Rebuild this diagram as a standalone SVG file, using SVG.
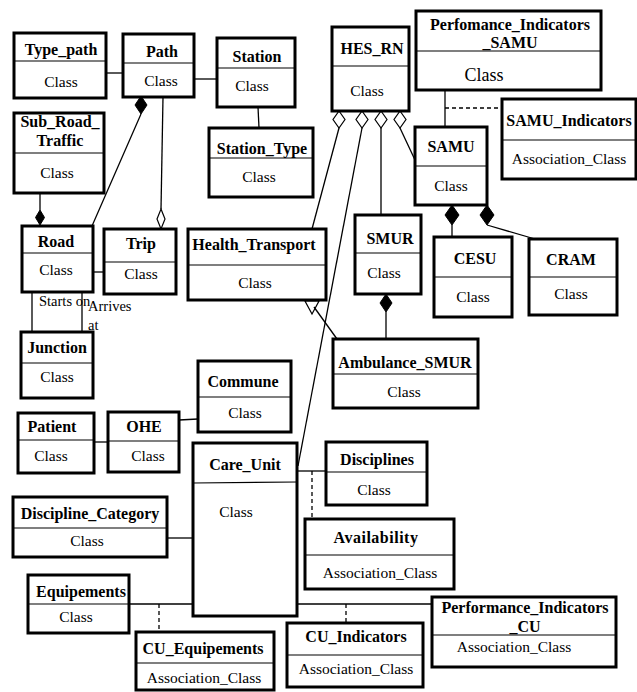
<svg xmlns="http://www.w3.org/2000/svg" width="637" height="692" viewBox="0 0 637 692">
<style>
.box{fill:#fff;stroke:#000;stroke-width:3}
.div{stroke:#000;stroke-width:1.2}
.t{font-family:"Liberation Serif","Times New Roman",serif;font-size:16px;font-weight:bold;text-anchor:middle;fill:#000}
.c{font-family:"Liberation Serif","Times New Roman",serif;font-size:15.5px;text-anchor:middle;fill:#000}
.lbl{font-family:"Liberation Serif","Times New Roman",serif;font-size:14.5px;fill:#000}
.ln{stroke:#000;stroke-width:1.3;fill:none}
.dash{stroke:#000;stroke-width:1.3;fill:none;stroke-dasharray:4 3}
.fd{fill:#000;stroke:#000;stroke-width:1}
.hd{fill:#fff;stroke:#000;stroke-width:1.2}
</style>
<rect width="637" height="692" fill="#fff"/>
<g id="connectors">
<line class="ln" x1="106" y1="73" x2="123" y2="73"/>
<line class="ln" x1="194" y1="79" x2="217" y2="79"/>
<line class="ln" x1="258" y1="107" x2="259" y2="128"/>
<line class="ln" x1="141" y1="114" x2="92" y2="226"/>
<polygon class="fd" points="141,96 147,105 141,114 135,105"/>
<line class="ln" x1="163" y1="97" x2="161" y2="209"/>
<polygon class="hd" points="161,209 165,219 161,229 157,219"/>
<line class="ln" x1="40" y1="193" x2="40" y2="210"/>
<polygon class="fd" points="40,210 44.5,217.5 40,225 35.5,217.5"/>
<line class="ln" x1="93" y1="272" x2="104" y2="272"/>
<line class="ln" x1="32" y1="292" x2="32" y2="332"/>
<line class="ln" x1="82" y1="292" x2="82" y2="332"/>
<line class="ln" x1="339" y1="128" x2="312" y2="229"/>
<line class="ln" x1="362" y1="128" x2="298" y2="466"/>
<line class="ln" x1="381" y1="128" x2="381" y2="215"/>
<line class="ln" x1="400" y1="128" x2="415" y2="160"/>
<polygon class="hd" points="339,111 345,119.5 339,128 333,119.5"/>
<polygon class="hd" points="362,111 368,119.5 362,128 356,119.5"/>
<polygon class="hd" points="381,111 387,119.5 381,128 375,119.5"/>
<polygon class="hd" points="400,111 406,119.5 400,128 394,119.5"/>
<line class="ln" x1="445" y1="90" x2="445" y2="127"/>
<line class="dash" x1="445" y1="108" x2="502" y2="108"/>
<polygon class="fd" points="452,205 459,215 452,225 445,215"/>
<line class="ln" x1="452" y1="225" x2="452" y2="237"/>
<polygon class="fd" points="487,205 494,215 487,225 480,215"/>
<line class="ln" x1="487" y1="225" x2="535" y2="239"/>
<line class="ln" x1="314" y1="307" x2="337" y2="339"/>
<polygon class="hd" points="305,301 319,301 312,314" style="fill:none"/>
<polygon class="fd" points="386,294 392,303 386,312 380,303"/>
<line class="ln" x1="386" y1="312" x2="386" y2="339"/>
<line class="ln" x1="179" y1="420" x2="198" y2="419"/>
<line class="ln" x1="94" y1="442" x2="108" y2="442"/>
<line class="ln" x1="167" y1="538" x2="193" y2="538"/>
<line class="ln" x1="297" y1="471" x2="326" y2="471"/>
<line class="dash" x1="312" y1="471" x2="312" y2="519"/>
<line class="ln" x1="129" y1="604" x2="193" y2="604"/>
<line class="dash" x1="159" y1="604" x2="159" y2="632"/>
<line class="ln" x1="297" y1="604" x2="432" y2="604"/>
<line class="dash" x1="346" y1="604" x2="346" y2="623"/>
<text class="lbl" x="39" y="306">Starts on</text>
<text class="lbl" x="88" y="311">Arrives</text>
<text class="lbl" x="88" y="330">at</text>
</g>
<g id="Type_path"><rect class="box" x="14" y="33" width="92" height="65"/><line class="div" x1="14" y1="61" x2="106" y2="61"/><text class="t" x="61" y="55">Type_path</text><text class="c" x="61" y="87">Class</text></g>
<g id="Path"><rect class="box" x="123" y="34" width="71" height="63"/><line class="div" x1="123" y1="63" x2="194" y2="63"/><text class="t" x="162" y="57">Path</text><text class="c" x="161" y="86">Class</text></g>
<g id="Station"><rect class="box" x="217" y="38" width="78" height="69"/><line class="div" x1="217" y1="68" x2="295" y2="68"/><text class="t" x="257" y="62">Station</text><text class="c" x="252" y="91">Class</text></g>
<g id="Station_Type"><rect class="box" x="209" y="128" width="104" height="69"/><line class="div" x1="209" y1="158" x2="313" y2="158"/><text class="t" x="262" y="154">Station_Type</text><text class="c" x="259" y="182">Class</text></g>
<g id="HES_RN"><rect class="box" x="332" y="27" width="77" height="84"/><line class="div" x1="332" y1="66" x2="409" y2="66"/><text class="t" x="372" y="54">HES_RN</text><text class="c" x="367" y="96">Class</text></g>
<g id="Perfomance_Indicators_SAMU"><rect class="box" x="416" y="11" width="185" height="79"/><line class="div" x1="416" y1="51" x2="601" y2="51"/><text class="t" x="510" y="30">Perfomance_Indicators</text><text class="t" x="510" y="48">_SAMU</text><text class="c" x="484" y="81" style="font-size:18px">Class</text></g>
<g id="SAMU_Indicators"><rect class="box" x="502" y="99" width="134" height="80"/><line class="div" x1="502" y1="140" x2="636" y2="140"/><text class="t" x="569" y="126">SAMU_Indicators</text><text class="c" x="569" y="164">Association_Class</text></g>
<g id="SAMU"><rect class="box" x="415" y="127" width="72" height="78"/><line class="div" x1="415" y1="166" x2="487" y2="166"/><text class="t" x="451" y="152">SAMU</text><text class="c" x="451" y="191">Class</text></g>
<g id="CESU"><rect class="box" x="434" y="237" width="78" height="80"/><line class="div" x1="434" y1="277" x2="512" y2="277"/><text class="t" x="475" y="264">CESU</text><text class="c" x="473" y="302">Class</text></g>
<g id="CRAM"><rect class="box" x="529" y="239" width="88" height="76"/><line class="div" x1="529" y1="277" x2="617" y2="277"/><text class="t" x="571" y="265">CRAM</text><text class="c" x="571" y="299">Class</text></g>
<g id="SMUR"><rect class="box" x="355" y="215" width="66" height="79"/><line class="div" x1="355" y1="253" x2="421" y2="253"/><text class="t" x="390" y="244">SMUR</text><text class="c" x="384" y="278">Class</text></g>
<g id="Health_Transport"><rect class="box" x="188" y="229" width="138" height="71"/><line class="div" x1="188" y1="265" x2="326" y2="265"/><text class="t" x="254" y="250">Health_Transport</text><text class="c" x="255" y="288">Class</text></g>
<g id="Ambulance_SMUR"><rect class="box" x="333" y="339" width="145" height="69"/><line class="div" x1="333" y1="374" x2="478" y2="374"/><text class="t" x="405" y="368">Ambulance_SMUR</text><text class="c" x="404" y="397">Class</text></g>
<g id="Sub_Road_Traffic"><rect class="box" x="14" y="113" width="90" height="80"/><line class="div" x1="14" y1="153" x2="104" y2="153"/><text class="t" x="60" y="127">Sub_Road_</text><text class="t" x="60" y="146">Traffic</text><text class="c" x="57" y="178">Class</text></g>
<g id="Road"><rect class="box" x="22" y="226" width="71" height="66"/><line class="div" x1="22" y1="253" x2="93" y2="253"/><text class="t" x="56" y="247">Road</text><text class="c" x="56" y="275">Class</text></g>
<g id="Trip"><rect class="box" x="104" y="229" width="72" height="65"/><line class="div" x1="104" y1="262" x2="176" y2="262"/><text class="t" x="141" y="249">Trip</text><text class="c" x="141" y="279">Class</text></g>
<g id="Junction"><rect class="box" x="21" y="332" width="72" height="66"/><line class="div" x1="21" y1="363" x2="93" y2="363"/><text class="t" x="57" y="353">Junction</text><text class="c" x="57" y="382">Class</text></g>
<g id="Commune"><rect class="box" x="198" y="361" width="93" height="71"/><line class="div" x1="198" y1="397" x2="291" y2="397"/><text class="t" x="243" y="387">Commune</text><text class="c" x="245" y="418">Class</text></g>
<g id="Patient"><rect class="box" x="18" y="413" width="76" height="60"/><line class="div" x1="18" y1="440" x2="94" y2="440"/><text class="t" x="52" y="432">Patient</text><text class="c" x="51" y="461">Class</text></g>
<g id="OHE"><rect class="box" x="108" y="412" width="71" height="60"/><line class="div" x1="108" y1="441" x2="179" y2="441"/><text class="t" x="144" y="432">OHE</text><text class="c" x="148" y="461">Class</text></g>
<g id="Care_Unit"><rect class="box" x="193" y="443" width="104" height="173"/><line class="div" x1="193" y1="483" x2="297" y2="482"/><text class="t" x="245" y="470">Care_Unit</text><text class="c" x="236" y="517">Class</text></g>
<g id="Disciplines"><rect class="box" x="326" y="442" width="101" height="63"/><line class="div" x1="326" y1="472" x2="427" y2="472"/><text class="t" x="377" y="465">Disciplines</text><text class="c" x="374" y="495">Class</text></g>
<g id="Availability"><rect class="box" x="305" y="519" width="149" height="70"/><line class="div" x1="305" y1="555" x2="454" y2="555"/><text class="t" x="376" y="543" style="letter-spacing:0.5px">Availability</text><text class="c" x="380" y="578">Association_Class</text></g>
<g id="Discipline_Category"><rect class="box" x="13" y="497" width="154" height="60"/><line class="div" x1="13" y1="528" x2="167" y2="528"/><text class="t" x="90" y="519">Discipline_Category</text><text class="c" x="87" y="546">Class</text></g>
<g id="Equipements"><rect class="box" x="28" y="575" width="101" height="58"/><line class="div" x1="28" y1="604" x2="129" y2="604"/><text class="t" x="81" y="597">Equipements</text><text class="c" x="76" y="622">Class</text></g>
<g id="CU_Equipements"><rect class="box" x="136" y="632" width="138" height="58"/><line class="div" x1="136" y1="663" x2="274" y2="663"/><text class="t" x="203" y="654">CU_Equipements</text><text class="c" x="204" y="683">Association_Class</text></g>
<g id="CU_Indicators"><rect class="box" x="287" y="623" width="136" height="64"/><line class="div" x1="287" y1="655" x2="423" y2="655"/><text class="t" x="356" y="642">CU_Indicators</text><text class="c" x="356" y="674">Association_Class</text></g>
<g id="Performance_Indicators_CU"><rect class="box" x="432" y="597" width="184" height="70"/><line class="div" x1="432" y1="635" x2="616" y2="635"/><text class="t" x="525" y="613">Performance_Indicators</text><text class="t" x="525" y="632">_CU</text><text class="c" x="514" y="652">Association_Class</text></g>
</svg>
